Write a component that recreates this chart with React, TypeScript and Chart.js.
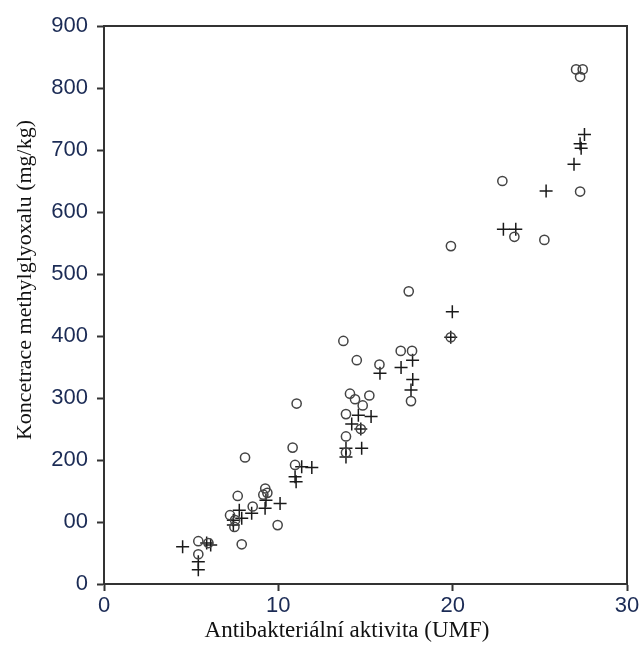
import React, { useEffect, useRef } from "react";
import { Chart, registerables } from "chart.js";

Chart.register(...registerables);

// Honey samples: antibacterial activity (UMF) vs methylglyoxal concentration (mg/kg)
const circleUMF = [
  27.08, 27.46, 27.31, 27.31, 25.26, 23.54, 22.85, 19.9, 19.89, 17.48, 17.02,
  17.67, 17.61, 15.8, 14.5, 13.73, 14.11, 14.4, 15.22, 14.84, 13.88, 14.73,
  13.88, 13.88, 11.05, 10.82, 10.96, 8.09, 7.67, 8.53, 9.25, 9.37, 9.14, 9.96,
  7.23, 7.52, 7.48, 7.9, 5.41, 5.41, 5.99,
];
const circleMGO = [
  830, 830, 818, 633, 555, 560, 650, 545, 398, 472, 376, 376, 295, 354, 361,
  392, 307, 298, 304, 288, 274, 250, 238, 212, 291, 220, 192, 204, 142, 125,
  154, 147, 144, 95, 111, 103, 92, 64, 69, 48, 66,
];

const plusUMF = [
  27.56, 27.31, 27.37, 26.96, 25.36, 22.91, 23.62, 19.98, 19.89, 17.7, 17.04,
  15.83, 17.71, 17.61, 14.59, 15.32, 14.21, 14.73, 13.88, 14.78, 13.88, 11.92,
  11.34, 10.96, 11.02, 10.1, 9.29, 9.24, 8.47, 7.76, 7.9, 7.42, 7.42, 4.51,
  5.89, 6.12, 5.41, 5.41,
];
const plusMGO = [
  725, 710, 703, 677, 634, 572, 572, 439, 398, 361, 349, 340, 330, 313, 272,
  270, 258, 250, 219, 219, 205, 188, 189, 173, 165, 130, 135, 122, 114, 119,
  106, 103, 95, 60, 66, 63, 36, 23,
];

const yTickValues = [0, 100, 200, 300, 400, 500, 600, 700, 800, 900];
const yTickLabels = ["0", "00", "200", "300", "400", "500", "600", "700", "800", "900"];
const xTickValues = [0, 10, 20, 30];
const xTickLabels = ["0", "10", "20", "30"];

const xTitle = "Antibakteriální aktivita (UMF)";
const yTitle = "Koncetrace methylglyoxalu (mg/kg)";

const W = 644;
const H = 650;
const AREA = { left: 104, top: 26, right: 627, bottom: 584 };
const AXIS_COLOR = "#333333";
const TICK_TEXT = "#1b2b55";
const TITLE_FAMILY = "'Liberation Serif', 'Times New Roman', serif";

const toPoints = (xs: number[], ys: number[]) => xs.map((x, i) => ({ x, y: ys[i] }));

// Closes the plot box on the top and right sides.
const framePlugin = {
  id: "frame",
  afterDatasetsDraw(chart: any) {
    const { ctx, chartArea } = chart;
    ctx.save();
    ctx.strokeStyle = AXIS_COLOR;
    ctx.lineWidth = 2;
    ctx.beginPath();
    ctx.moveTo(chartArea.left, chartArea.top);
    ctx.lineTo(chartArea.right, chartArea.top);
    ctx.lineTo(chartArea.right, chartArea.bottom);
    ctx.stroke();
    ctx.restore();
  },
};

// Axis titles in a serif face, placed under / beside the plot box.
const axisTitlePlugin = {
  id: "axisTitles",
  afterDraw(chart: any) {
    const { ctx } = chart;
    ctx.save();
    ctx.fillStyle = "#111111";
    ctx.textAlign = "center";
    ctx.textBaseline = "middle";
    ctx.font = `23px ${TITLE_FAMILY}`;
    ctx.fillText(xTitle, 347, 631);
    ctx.translate(25, 280);
    ctx.rotate(-Math.PI / 2);
    ctx.font = `22px ${TITLE_FAMILY}`;
    ctx.fillText(yTitle, 0, 0);
    ctx.restore();
  },
};

export default function App() {
  const canvasRef = useRef<HTMLCanvasElement | null>(null);

  useEffect(() => {
    if (!canvasRef.current) return;
    const tickFont = { family: "'Liberation Sans', Arial, sans-serif", size: 22 };
    const chart = new Chart(canvasRef.current, {
      type: "scatter",
      data: {
        datasets: [
          {
            label: "circles",
            data: toPoints(circleUMF, circleMGO),
            pointStyle: "circle",
            pointRadius: 4.6,
            borderColor: "#444444",
            backgroundColor: "rgba(0,0,0,0)",
            borderWidth: 1.5,
          },
          {
            label: "plus",
            data: toPoints(plusUMF, plusMGO),
            pointStyle: "cross",
            pointRadius: 6.5,
            borderColor: "#1a1a1a",
            backgroundColor: "rgba(0,0,0,0)",
            borderWidth: 1.5,
          },
        ],
      },
      options: {
        responsive: false,
        animation: false,
        layout: {
          autoPadding: false,
          padding: { left: 0, top: AREA.top, right: W - AREA.right, bottom: 0 },
        },
        plugins: {
          legend: { display: false },
          tooltip: { enabled: false },
        },
        scales: {
          x: {
            type: "linear",
            min: 0,
            max: 30,
            afterBuildTicks: (scale: any) => {
              scale.ticks = xTickValues.map((value) => ({ value }));
            },
            afterFit: (scale: any) => {
              scale.height = H - AREA.bottom;
            },
            ticks: {
              color: TICK_TEXT,
              font: tickFont,
              padding: 2,
              maxRotation: 0,
              callback: (v: any) => xTickLabels[xTickValues.indexOf(Number(v))] ?? "",
            },
            grid: {
              drawOnChartArea: false,
              tickLength: 7,
              tickColor: AXIS_COLOR,
              tickWidth: 2,
            },
            border: { display: true, color: AXIS_COLOR, width: 2 },
          },
          y: {
            type: "linear",
            min: 0,
            max: 900,
            afterBuildTicks: (scale: any) => {
              scale.ticks = yTickValues.map((value) => ({ value }));
            },
            afterFit: (scale: any) => {
              scale.width = AREA.left;
            },
            ticks: {
              color: TICK_TEXT,
              font: tickFont,
              padding: 9,
              callback: (v: any) => yTickLabels[yTickValues.indexOf(Number(v))] ?? "",
            },
            grid: {
              drawOnChartArea: false,
              tickLength: 7,
              tickColor: AXIS_COLOR,
              tickWidth: 2,
            },
            border: { display: true, color: AXIS_COLOR, width: 2 },
          },
        },
      },
      plugins: [framePlugin, axisTitlePlugin],
    });
    return () => chart.destroy();
  }, []);

  return (
    <div style={{ position: "fixed", left: 0, top: 0, width: W, height: H, background: "#ffffff" }}>
      <canvas ref={canvasRef} width={W} height={H} style={{ display: "block" }} />
    </div>
  );
}
